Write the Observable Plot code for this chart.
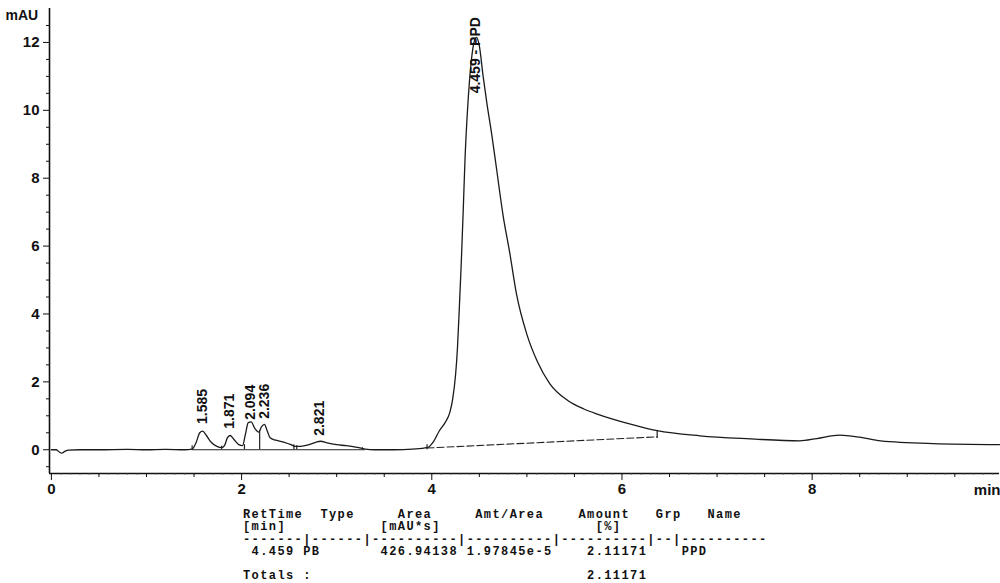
<!DOCTYPE html>
<html>
<head>
<meta charset="utf-8">
<script src="https://cdn.jsdelivr.net/npm/d3@7"></script>
<script src="https://cdn.jsdelivr.net/npm/@observablehq/plot@0.6"></script>
<style>
  body { margin: 0; background: #fff; }
  #wrap { position: relative; width: 1000px; height: 583px; overflow: hidden; background: #fff; }
  #table { position: absolute; left: 243px; top: 509px; margin: 0;
           font-family: "Liberation Mono", "DejaVu Sans Mono", monospace;
           font-size: 12px; letter-spacing: 1.4px; line-height: 12.3px; font-weight: bold; color: #111; }
</style>
</head>
<body>
<div id="wrap"><div id="chart"></div><pre id="table"></pre></div>
<script>
// ---- chromatogram trace (time in min, signal in mAU) ----
const times = [
  0.00, 0.05, 0.08, 0.11, 0.14, 0.18, 0.30, 0.50, 0.80, 1.00, 1.20, 1.40,
  1.48, 1.52, 1.56, 1.59, 1.63, 1.68, 1.74, 1.79, 1.82, 1.85, 1.88, 1.92,
  1.97, 2.01, 2.04, 2.07, 2.10, 2.14, 2.18, 2.21, 2.24, 2.27, 2.30, 2.36,
  2.45, 2.52, 2.56, 2.62, 2.70, 2.78, 2.83, 2.90, 3.00, 3.10, 3.20, 3.30,
  3.40, 3.60, 3.80, 3.95, 4.02, 4.08, 4.14, 4.19, 4.22, 4.25, 4.27, 4.29,
  4.31, 4.33, 4.35, 4.38, 4.41, 4.44, 4.47, 4.50, 4.54, 4.58, 4.63, 4.68,
  4.75, 4.82, 4.89, 5.00, 5.11, 5.24, 5.43, 5.60, 5.74, 6.08, 6.37, 6.82,
  7.35, 7.87, 8.05, 8.29, 8.50, 8.72, 9.27, 9.97
];
const signal = [
  0.00, 0.00, -0.06, -0.10, -0.05, -0.01, 0.00, 0.00, 0.01, 0.00, 0.01, 0.00,
  0.02, 0.20, 0.50, 0.55, 0.42, 0.22, 0.10, 0.06, 0.12, 0.35, 0.42, 0.30,
  0.15, 0.12, 0.45, 0.80, 0.82, 0.62, 0.52, 0.68, 0.75, 0.55, 0.35, 0.28,
  0.22, 0.15, 0.10, 0.10, 0.14, 0.22, 0.25, 0.20, 0.15, 0.12, 0.08, 0.02,
  0.00, 0.00, 0.02, 0.06, 0.25, 0.56, 0.80, 1.10, 1.50, 2.20, 3.00, 4.20,
  5.50, 7.00, 8.60, 10.20, 11.30, 11.95, 12.15, 11.90, 11.00, 10.20, 9.30, 8.30,
  6.90, 5.80, 4.60, 3.40, 2.60, 1.95, 1.45, 1.20, 1.05, 0.76, 0.56, 0.41,
  0.32, 0.26, 0.33, 0.43, 0.37, 0.26, 0.18, 0.15
];

// ---- peak annotations ----
const peakTimes  = [1.585, 1.871, 2.094, 2.236, 2.821, 4.459];
const peakLabels = ["1.585", "1.871", "2.094", "2.236", "2.821", "4.459 - PPD"];
const labelBase  = [0.76, 0.62, 0.88, 0.91, 0.41, 10.5];

// ---- integration baselines and marks ----
const mainBaseTimes  = [3.95, 6.37];
const mainBaseValues = [0.05, 0.38];
const smallBaseTimes = [1.48, 3.30];
const markTimes = [1.48, 1.79, 2.03, 2.19, 2.55, 2.58, 3.27, 3.95, 6.37];
const markLow   = [0, 0, 0, 0, 0, 0, 0, 0, 0.33];
const markHigh  = [0.12, 0.10, 0.15, 0.56, 0.15, 0.12, 0.06, 0.15, 0.57];

// ---- axes ----
const xTicks = [0, 2, 4, 6, 8];
const yTicks = [0, 2, 4, 6, 8, 10, 12];
const xUnit = "min";
const yUnit = "mAU";

// ---- result table ----
const tableHeaders = ["RetTime", "Type", "Area", "Amt/Area", "Amount", "Grp", "Name"];
const tableUnits   = ["[min]", "", "[mAU*s]", "", "[%]", "", ""];
const tableRow     = ["4.459", "PB", "426.94138", "1.97845e-5", "2.11171", "", "PPD"];
const totalsLabel  = "Totals :";
const totalsAmount = "2.11171";

// ---------------------------------------------------------------
const xDomain = [-0.02, 9.97];
const yDomain = [-0.7, 13];
const trace = times.map((t, i) => ({t, v: signal[i]}));
const peaks = peakTimes.map((t, i) => ({t, ly: labelBase[i], label: peakLabels[i]}));
const mainBase = mainBaseTimes.map((t, i) => ({t, v: mainBaseValues[i]}));
const marks = markTimes.map((t, i) => ({t, lo: markLow[i], hi: markHigh[i]}));
const minorX = d3.range(0.5, 10, 0.5).filter(d => !xTicks.includes(d));
const tinyX = d3.range(0, 100).map(d => d / 10);
const minorY = d3.range(-0.5, 13, 0.5).filter(d => !yTicks.includes(d));
const font = "'Liberation Sans', Arial, sans-serif";

const chart = Plot.plot({
  width: 1000, height: 503,
  marginLeft: 49, marginRight: 1, marginTop: 8, marginBottom: 30,
  x: {domain: xDomain},
  y: {domain: yDomain},
  style: {fontFamily: font, color: "#111", background: "#fff"},
  marks: [
    Plot.ruleX([xDomain[0]], {y1: yDomain[0], y2: yDomain[1], stroke: "#111", strokeWidth: 1.6}),
    Plot.ruleY([yDomain[0]], {x1: xDomain[0], x2: xDomain[1], stroke: "#111", strokeWidth: 1.6}),
    Plot.axisY({ticks: minorY, tickSize: 3, tickFormat: () => "", label: null, stroke: "#111"}),
    Plot.axisY({ticks: yTicks, tickSize: 6, tickPadding: 4, fontSize: 15, fontWeight: "bold", label: null, stroke: "#111"}),
    Plot.axisX({ticks: tinyX, tickSize: 1.5, tickFormat: () => "", label: null, stroke: "#333"}),
    Plot.axisX({ticks: minorX, tickSize: 4, tickFormat: () => "", label: null, stroke: "#111"}),
    Plot.axisX({ticks: xTicks, tickSize: 7, tickPadding: 3, fontSize: 15, fontWeight: "bold", label: null, stroke: "#111"}),
    Plot.text([yUnit], {frameAnchor: "top-left", textAnchor: "start", lineAnchor: "top", dx: -44, dy: 2, fontSize: 14, fontWeight: "bold"}),
    Plot.text([xUnit], {frameAnchor: "bottom-right", textAnchor: "end", lineAnchor: "middle", dx: 1, dy: 17, fontSize: 15, fontWeight: "bold"}),
    Plot.ruleY([0], {x1: smallBaseTimes[0], x2: smallBaseTimes[1], stroke: "#222", strokeWidth: 1}),
    Plot.line(mainBase, {x: "t", y: "v", stroke: "#222", strokeWidth: 1.1, strokeDasharray: "7,3"}),
    Plot.ruleX(marks, {x: "t", y1: "lo", y2: "hi", stroke: "#222", strokeWidth: 1.2}),
    Plot.line(trace, {x: "t", y: "v", curve: "monotone-x", stroke: "#1a1a1a", strokeWidth: 1.3}),
    Plot.text(peaks, {x: "t", y: "ly", text: "label", rotate: -90, textAnchor: "start", lineAnchor: "middle", fontSize: 14, fontWeight: "bold", fill: "#111"})
  ]
});
document.getElementById("chart").append(chart);

// table text
function place(items, cols) {
  let s = "";
  items.forEach((it, i) => {
    if (!it) return;
    while (s.length < cols[i]) s += " ";
    s += it;
  });
  return s;
}
const dashWidths = [7, 6, 10, 10, 10, 2, 10];
const lines = [
  place(tableHeaders, [0, 9, 18, 27, 39, 48, 54]),
  place(tableUnits,   [0, 0, 16, 0, 41, 0, 0]),
  dashWidths.map(w => "-".repeat(w)).join("|"),
  place(tableRow,     [1, 7, 16, 26, 40, 48, 51]),
  "",
  place([totalsLabel, totalsAmount], [0, 40])
];
document.getElementById("table").textContent = lines.join("\n");
</script>
</body>
</html>
